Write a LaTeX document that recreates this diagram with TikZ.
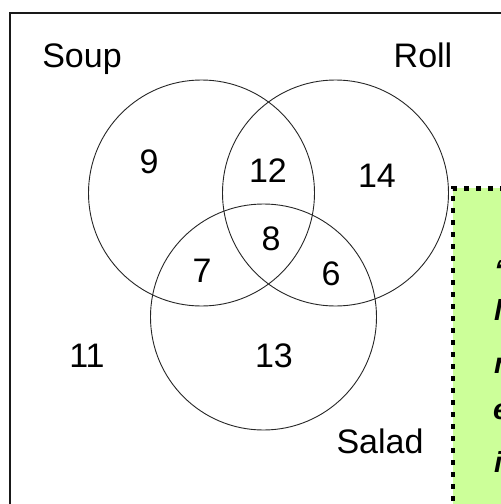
\documentclass[tikz,border=0pt]{standalone}
\usepackage{fontspec}
\setmainfont{Liberation Sans}
\definecolor{notegreen}{RGB}{204,255,153}
\begin{document}
\begin{tikzpicture}[x=1pt,y=-1pt,
  lbl/.style={font=\fontsize{34}{40}\selectfont, inner sep=0pt, anchor=base},
  setc/.style={circle, draw=black!85, line width=0.9pt, minimum size=226pt, inner sep=0pt},
  notebox/.style={fill=notegreen, draw=black, line width=4.5pt, dash pattern=on 5pt off 7pt, anchor=north west, minimum width=140pt, minimum height=360pt, inner sep=0pt},
  notetxt/.style={font=\fontsize{29}{34}\selectfont\itshape\bfseries, inner sep=0pt, anchor=base west}]
\useasboundingbox (0,0) rectangle (501,504);
\clip (0,0) rectangle (501,504);
\fill[white] (0,0) rectangle (501,504);
\node[draw=black!90, line width=2.8pt, anchor=north west, minimum width=600pt, minimum height=600pt, inner sep=0pt] (frame) at (8.5,11.5) {};
\node[setc] (soup) at (201.5,193) {};
\node[setc] (roll) at (335.5,193) {};
\node[setc] (salad) at (263.5,317) {};
\node[lbl] (lsoup) at (82,67) {Soup};
\node[lbl] (lroll) at (423,67) {Roll};
\node[lbl] (lsalad) at (380,453) {Salad};
\node[lbl] (n9) at (149,173) {9};
\node[lbl] (n12) at (268,182) {12};
\node[lbl] (n14) at (377,187) {14};
\node[lbl] (n8) at (271,250) {8};
\node[lbl] (n7) at (202,282) {7};
\node[lbl] (n6) at (331,285) {6};
\node[lbl] (n11) at (87,367) {11};
\node[lbl] (n13) at (274,367) {13};
\node[notebox] (note) at (450.5,186) {};
\node[notetxt] (t1) at (494,280) {‘};
\node[notetxt] (t2) at (494,320) {l};
\node[notetxt] (t3) at (494,373) {n};
\node[notetxt] (t4) at (493,419) {e};
\node[notetxt] (t5) at (494,472) {i};
\end{tikzpicture}
\end{document}
